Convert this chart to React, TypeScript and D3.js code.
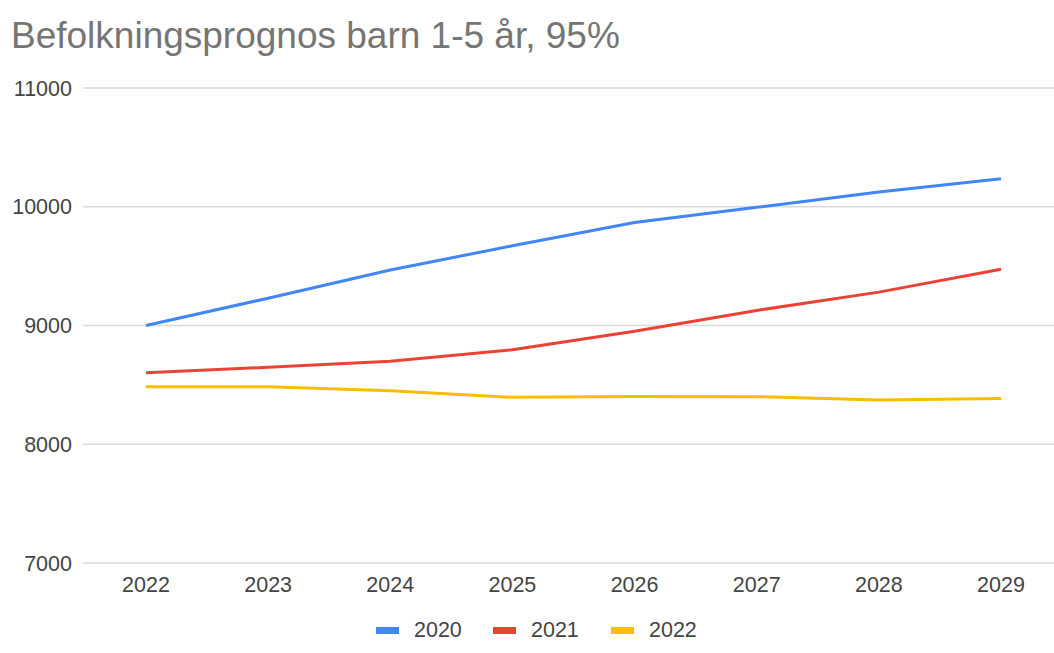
import React from "react";
import * as d3 from "d3";

const years = ["2022", "2023", "2024", "2025", "2026", "2027", "2028", "2029"];
const s2020 = [9000, 9230, 9468, 9671, 9868, 9995, 10124, 10236];
const s2021 = [8603, 8648, 8699, 8795, 8952, 9127, 9281, 9473];
const s2022 = [8485, 8485, 8451, 8395, 8403, 8401, 8373, 8386];
const yTicks = [7000, 8000, 9000, 10000, 11000];
const seriesNames = ["2020", "2021", "2022"];
const seriesColors = ["#4285F4", "#EA4335", "#FBBC04"];

const W = 1054;
const H = 653;

export default function App() {
  const x = d3.scalePoint<string>().domain(years).range([146, 1001]);
  const y = d3.scaleLinear().domain([7000, 11000]).range([563, 88]);
  const line = d3
    .line<number>()
    .x((_, i) => x(years[i]) as number)
    .y((d) => y(d));
  const allSeries = [s2020, s2021, s2022];
  const legendX = [376, 493, 611];
  const font = "Arial, 'Liberation Sans', sans-serif";

  return (
    <div style={{ position: "absolute", left: 0, top: 0 }}>
      <svg width={W} height={H} style={{ display: "block", background: "#fff" }}>
        <text x={11} y={48} fontFamily={font} fontSize={37} fill="#757575">
          Befolkningsprognos barn 1-5 år, 95%
        </text>
        {yTicks.map((t) => (
          <g key={t}>
            <line x1={83} x2={W} y1={y(t)} y2={y(t)} stroke="#d9d9d9" strokeWidth={1.5} />
            <text
              x={72}
              y={y(t)}
              dy="0.36em"
              textAnchor="end"
              fontFamily={font}
              fontSize={21.5}
              fill="#444"
            >
              {t}
            </text>
          </g>
        ))}
        {years.map((yr) => (
          <text
            key={yr}
            x={x(yr) as number}
            y={592}
            textAnchor="middle"
            fontFamily={font}
            fontSize={21.5}
            fill="#444"
          >
            {yr}
          </text>
        ))}
        {allSeries.map((s, i) => (
          <path
            key={i}
            d={line(s) as string}
            fill="none"
            stroke={seriesColors[i]}
            strokeWidth={3}
            strokeLinejoin="round"
          />
        ))}
        {seriesNames.map((n, i) => (
          <g key={n}>
            <rect x={legendX[i]} y={627} width={23} height={7} fill={seriesColors[i]} />
            <text
              x={legendX[i] + 38}
              y={637}
              fontFamily={font}
              fontSize={21.5}
              fill="#444"
            >
              {n}
            </text>
          </g>
        ))}
      </svg>
    </div>
  );
}
